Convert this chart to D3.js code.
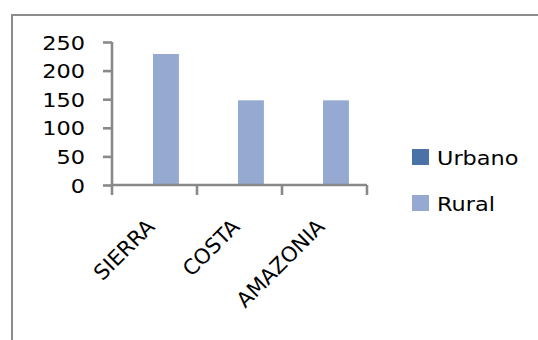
<!DOCTYPE html>
<html>
<head>
<meta charset="utf-8">
<script src="https://cdn.jsdelivr.net/npm/d3@7"></script>
<style>
  html, body { margin: 0; padding: 0; background: #fff; }
  svg { display: block; }
  text { font-family: "DejaVu Sans", sans-serif; fill: #000; }
</style>
</head>
<body>
<script>
// Regions and the two population series
const categories = ["SIERRA", "COSTA", "AMAZONIA"];
const seriesNames = ["Urbano", "Rural"];
const urbano = [0, 0, 0];
const rural = [229, 148, 148];
const yTicks = [0, 50, 100, 150, 200, 250];

const W = 538, H = 340;
const colors = { Urbano: "#4a72a6", Rural: "#95a9d1" };
const axisColor = "#898989";
const sx = 1.12;          // horizontal text stretch
const fontSize = 20;

const svg = d3.select("body").append("svg")
  .attr("width", W).attr("height", H);

// Chart frame (runs off the right and bottom edges)
svg.append("rect")
  .attr("x", 12).attr("y", 15)
  .attr("width", 560).attr("height", 360)
  .attr("fill", "none")
  .attr("stroke", "#8c8c8c")
  .attr("stroke-width", 2);

const plot = { left: 112, right: 367, top: 42, bottom: 185 };

const y = d3.scaleLinear().domain([0, 250]).range([plot.bottom, plot.top]);
const x0 = d3.scaleBand().domain(categories)
  .range([plot.left, plot.right])
  .paddingInner(0.39).paddingOuter(0.195);
const x1 = d3.scaleBand().domain(seriesNames)
  .range([0, x0.bandwidth()]);
const step = x0.step();

const rows = categories.map((c, i) => ({ cat: c, Urbano: urbano[i], Rural: rural[i] }));

// Bars
const groups = svg.append("g").selectAll("g")
  .data(rows).join("g")
  .attr("transform", d => `translate(${x0(d.cat) - 1.5},0)`);

groups.selectAll("rect")
  .data(d => seriesNames.map(s => ({ s, v: d[s] })))
  .join("rect")
  .attr("x", d => x1(d.s))
  .attr("width", x1.bandwidth())
  .attr("y", d => y(d.v))
  .attr("height", d => y(0) - y(d.v))
  .attr("fill", d => colors[d.s]);

// Y axis
const yAxis = d3.axisLeft(y).tickValues(yTicks).tickSize(9).tickFormat("");
const gy = svg.append("g").attr("transform", `translate(${plot.left},0)`).call(yAxis);
gy.select(".domain").attr("d", `M0,${plot.top}V${plot.bottom}`)
  .attr("stroke", axisColor).attr("stroke-width", 2.6);
gy.selectAll(".tick line").attr("stroke", axisColor).attr("stroke-width", 2.6);

// Y tick labels
svg.append("g").selectAll("text")
  .data(yTicks).join("text")
  .attr("transform", d => `translate(85,${y(d) + 7.5}) scale(${sx},1)`)
  .attr("text-anchor", "end")
  .style("font-size", fontSize + "px")
  .text(d => d);

// X axis with boundary ticks between categories
const xEdges = d3.range(categories.length + 1).map(i => plot.left + i * step);
const gx = svg.append("g");
gx.append("line")
  .attr("x1", plot.left).attr("x2", plot.right)
  .attr("y1", plot.bottom).attr("y2", plot.bottom)
  .attr("stroke", axisColor).attr("stroke-width", 2.6);
gx.selectAll("line.tick").data(xEdges).join("line")
  .attr("class", "tick")
  .attr("x1", d => d).attr("x2", d => d)
  .attr("y1", plot.bottom).attr("y2", plot.bottom + 10)
  .attr("stroke", axisColor).attr("stroke-width", 2.6);

// Rotated category labels
svg.append("g").selectAll("text")
  .data(categories).join("text")
  .attr("transform", d => `translate(${x0(d) + x0.bandwidth() / 2 + 1.5},228) rotate(-45)`)
  .attr("text-anchor", "end")
  .style("font-size", "21px")
  .text(d => d);

// Legend
const legend = svg.append("g").selectAll("g")
  .data(seriesNames).join("g")
  .attr("transform", (d, i) => `translate(412,${149 + i * 46})`);
legend.append("rect")
  .attr("width", 17).attr("height", 16)
  .attr("fill", d => colors[d]);
legend.append("text")
  .attr("transform", `translate(25,16) scale(${sx},1)`)
  .style("font-size", fontSize + "px")
  .text(d => d);
</script>
</body>
</html>
